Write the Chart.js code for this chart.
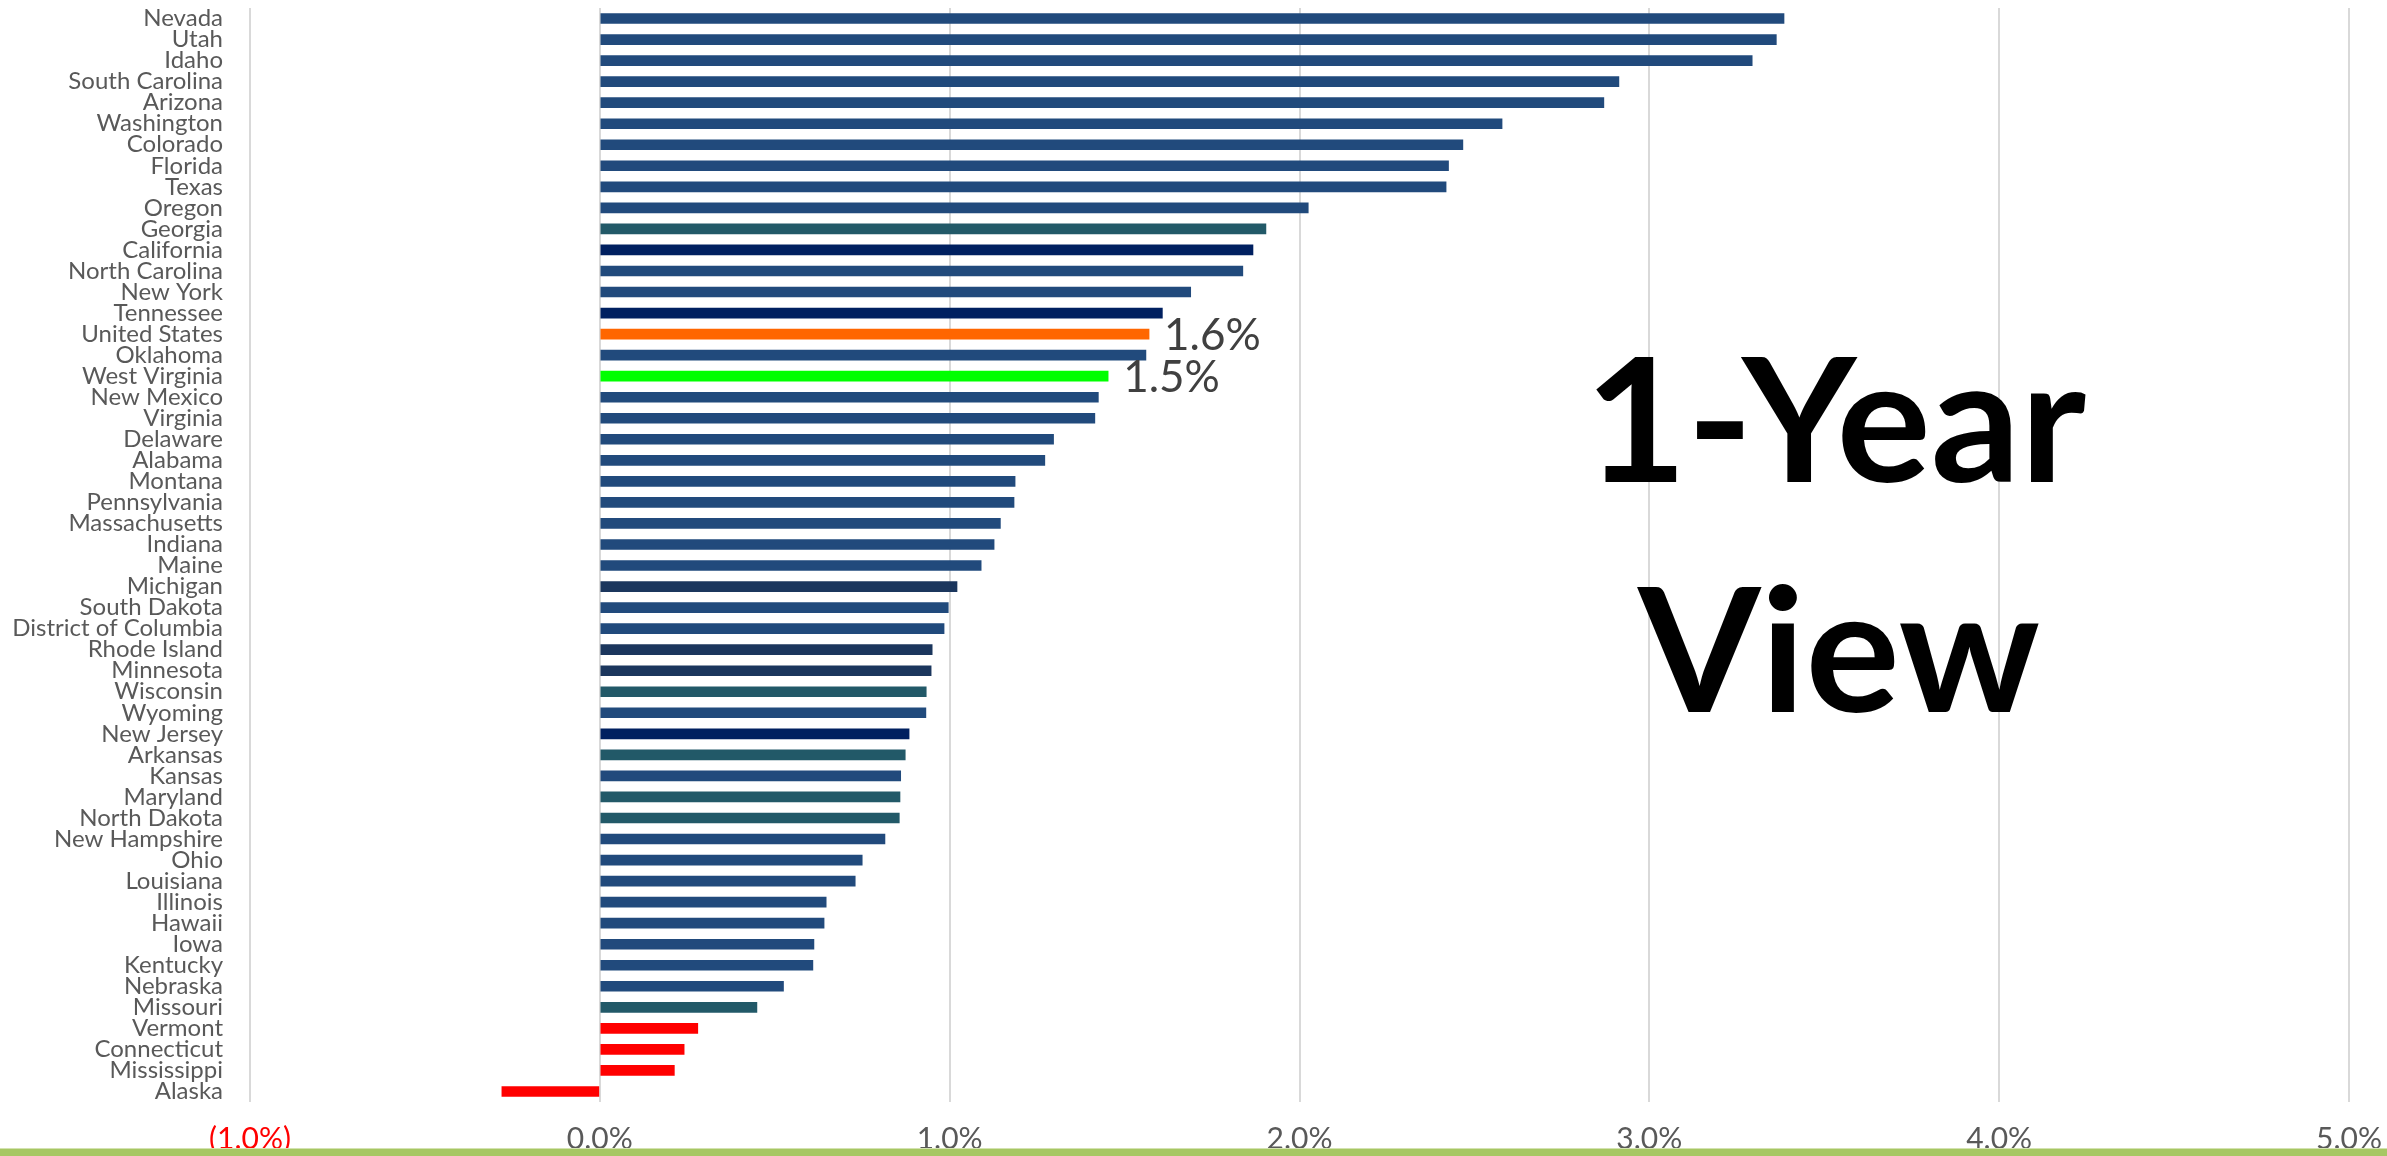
<!DOCTYPE html>
<html>
<head>
<meta charset="utf-8">
<script src="https://cdn.jsdelivr.net/npm/chart.js@4.4.1/dist/chart.umd.min.js"></script>
<style>
  html, body { margin: 0; padding: 0; background: #ffffff; overflow: hidden; }
  #wrap { position: relative; width: 2387px; height: 1156px; }
  #footerBar { position: absolute; left: 0; right: 0; bottom: 0; height: 7px; background: #a7c763; border-top: 1px solid #d3e2b0; }
</style>
</head>
<body>
<div id="wrap">
  <canvas id="c" width="2387" height="1156"></canvas>
  <div id="footerBar"></div>
</div>
<script>
// ---- data ----
const categories = [
  "Nevada", "Utah", "Idaho", "South Carolina", "Arizona", "Washington", "Colorado", "Florida", "Texas", "Oregon",
  "Georgia", "California", "North Carolina", "New York", "Tennessee", "United States", "Oklahoma", "West Virginia", "New Mexico", "Virginia",
  "Delaware", "Alabama", "Montana", "Pennsylvania", "Massachusetts", "Indiana", "Maine", "Michigan", "South Dakota", "District of Columbia",
  "Rhode Island", "Minnesota", "Wisconsin", "Wyoming", "New Jersey", "Arkansas", "Kansas", "Maryland", "North Dakota", "New Hampshire",
  "Ohio", "Louisiana", "Illinois", "Hawaii", "Iowa", "Kentucky", "Nebraska", "Missouri", "Vermont", "Connecticut",
  "Mississippi", "Alaska"
];
const growthPct = [
  3.385, 3.363, 3.294, 2.913, 2.870, 2.579, 2.467, 2.426, 2.419, 2.025,
  1.904, 1.867, 1.838, 1.689, 1.608, 1.570, 1.561, 1.453, 1.425, 1.415,
  1.297, 1.272, 1.187, 1.184, 1.145, 1.127, 1.090, 1.021, 0.996, 0.984,
  0.950, 0.947, 0.933, 0.932, 0.884, 0.873, 0.860, 0.858, 0.856, 0.815,
  0.750, 0.730, 0.647, 0.641, 0.612, 0.609, 0.525, 0.449, 0.280, 0.241,
  0.213, -0.280
];
const barGroup = [
  "std", "std", "std", "std", "std", "std", "std", "std", "std", "std",
  "teal", "navy", "std", "std", "navy", "us", "std", "wv", "std", "std",
  "std", "std", "std", "std", "std", "std", "std", "slate", "std", "std",
  "slate", "slate", "teal", "std", "navy", "teal", "std", "teal", "teal", "std",
  "std", "std", "std", "std", "std", "std", "std", "teal", "low", "low",
  "low", "low"
];
const pointLabels = {"United States": "1.6%", "West Virginia": "1.5%"};
const xTickValues = [-1, 0, 1, 2, 3, 4, 5];
const titleLines = ["1-Year", "View"];

// ---- styles ----
const palette = {
  std: "#214a7c", teal: "#225968", navy: "#002060", slate: "#1b365d",
  us: "#ff6600", wv: "#00ff00", low: "#ff0000"
};
const colors = barGroup.map(g => palette[g]);

const valueLabelPlugin = {
  id: "valueLabels",
  afterDatasetsDraw(chart) {
    const ctx = chart.ctx;
    const meta = chart.getDatasetMeta(0);
    ctx.save();
    ctx.font = "44px Lato";
    ctx.fillStyle = "#404040";
    ctx.textAlign = "left";
    ctx.textBaseline = "middle";
    categories.forEach((c, i) => {
      const t = pointLabels[c];
      if (!t) return;
      const el = meta.data[i];
      ctx.fillText(t, el.x + 15, el.y + 2);
    });
    ctx.restore();
  }
};

const titlePlugin = {
  id: "bigTitle",
  afterDraw(chart) {
    const ctx = chart.ctx;
    ctx.save();
    ctx.font = "bold 172px Lato";
    ctx.fillStyle = "#000000";
    ctx.textBaseline = "alphabetic";
    ctx.textAlign = "left";
    const m0 = ctx.measureText(titleLines[0]);
    const ink0 = m0.actualBoundingBoxLeft + m0.actualBoundingBoxRight;
    const sx = 490 / ink0;
    const centers = [1841, 1838];
    const baselines = [482, 712];
    titleLines.forEach((line, k) => {
      const m = ctx.measureText(line);
      const inkL = -m.actualBoundingBoxLeft, inkR = m.actualBoundingBoxRight;
      const mid = (inkL + inkR) / 2;
      ctx.save();
      ctx.translate(centers[k], baselines[k]);
      ctx.scale(sx, 1);
      ctx.fillText(line, -mid, 0);
      ctx.restore();
    });
    ctx.restore();
  }
};

function fmtPct(v) {
  return v < 0 ? "(" + Math.abs(v).toFixed(1) + "%)" : v.toFixed(1) + "%";
}

new Chart(document.getElementById("c"), {
  type: "bar",
  data: {
    labels: categories,
    datasets: [{
      data: growthPct,
      backgroundColor: colors,
      borderWidth: 0,
      barThickness: 10
    }]
  },
  options: {
    indexAxis: "y",
    responsive: false,
    animation: false,
    layout: { padding: { top: 8, right: 38, left: 0, bottom: 0 } },
    plugins: { legend: { display: false }, tooltip: { enabled: false } },
    scales: {
      x: {
        type: "linear",
        min: xTickValues[0],
        max: xTickValues[xTickValues.length - 1],
        afterBuildTicks(scale) { scale.ticks = xTickValues.map(v => ({ value: v })); },
        afterFit(scale) { scale.height = 54; scale.paddingLeft = 0; scale.paddingRight = 0; },
        grid: { color: "#d9d9d9", lineWidth: 2, drawTicks: false },
        border: { display: false },
        ticks: {
          padding: 19,
          font: { family: "Lato", size: 30 },
          color: ctx => (ctx.tick && ctx.tick.value < 0) ? "#ff0000" : "#595959",
          callback: v => fmtPct(v)
        }
      },
      y: {
        afterFit(scale) { scale.width = 250; scale.paddingTop = 0; scale.paddingBottom = 0; },
        grid: { display: false, drawTicks: false },
        border: { display: false },
        ticks: {
          autoSkip: false,
          padding: 27,
          font: { family: "Lato", size: 24 },
          color: "#595959"
        }
      }
    }
  },
  plugins: [valueLabelPlugin, titlePlugin]
});
</script>
</body>
</html>
